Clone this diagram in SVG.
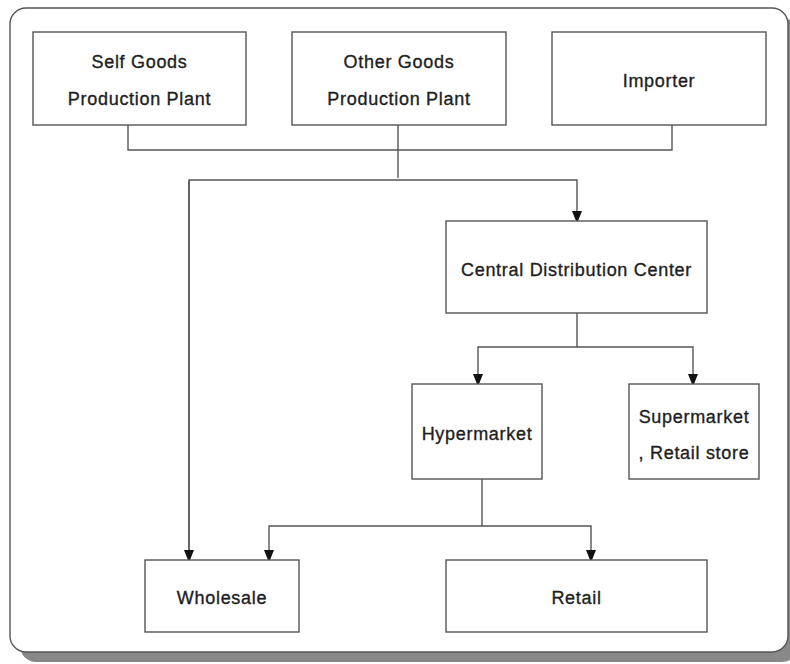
<svg xmlns="http://www.w3.org/2000/svg" width="790" height="664" viewBox="0 0 790 664">
  <style>
    .box { fill: #ffffff; stroke: #555555; stroke-width: 1.4; }
    .lbl { font-family: "Liberation Sans", Arial, sans-serif; font-size: 18px; letter-spacing: 0.7px; fill: #1e1e1e; stroke: #1e1e1e; stroke-width: 0.35; text-anchor: middle; }
    .wire { fill: none; stroke: #555555; stroke-width: 1.4; }
  </style>
  <defs>
    <marker id="arrowDown" viewBox="0 0 10 10" refX="5" refY="10" markerWidth="10" markerHeight="10" markerUnits="userSpaceOnUse" orient="0">
      <path d="M0,0 L10,0 L6,10 L4,10 Z" fill="#111111"/>
    </marker>
  </defs>

  <!-- frame with drop shadow -->
  <rect x="20" y="18" width="778" height="644" rx="16" fill="#888888"/>
  <rect x="10" y="8" width="778" height="644" rx="16" fill="#ffffff" stroke="#555555" stroke-width="1.4"/>

  <g id="connectors">
    <path class="wire" d="M128,125 V150 H672 V125"/>
    <path class="wire" d="M398,125 V178"/>
    <path class="wire" d="M189,560 V180 H577 V221" marker-end="url(#arrowDown)"/>
    <path class="wire" d="M189,181 V560" marker-end="url(#arrowDown)"/>
    <path class="wire" d="M577,313 V347 H478 V384" marker-end="url(#arrowDown)"/>
    <path class="wire" d="M577,347 H693 V384" marker-end="url(#arrowDown)"/>
    <path class="wire" d="M482,479 V526 H269 V560" marker-end="url(#arrowDown)"/>
    <path class="wire" d="M482,526 H591 V560" marker-end="url(#arrowDown)"/>
  </g>

  <g id="self-goods">
    <rect class="box" x="33" y="32" width="213" height="93"/>
    <text class="lbl" x="139.5" y="68">Self Goods</text>
    <text class="lbl" x="139.5" y="105">Production Plant</text>
  </g>
  <g id="other-goods">
    <rect class="box" x="292" y="32" width="214" height="93"/>
    <text class="lbl" x="399" y="68">Other Goods</text>
    <text class="lbl" x="399" y="105">Production Plant</text>
  </g>
  <g id="importer">
    <rect class="box" x="552" y="32" width="214" height="93"/>
    <text class="lbl" x="659" y="87">Importer</text>
  </g>
  <g id="central-distribution">
    <rect class="box" x="446" y="221" width="261" height="92"/>
    <text class="lbl" x="576.5" y="276">Central Distribution Center</text>
  </g>
  <g id="hypermarket">
    <rect class="box" x="412" y="384" width="130" height="95"/>
    <text class="lbl" x="477" y="440">Hypermarket</text>
  </g>
  <g id="supermarket">
    <rect class="box" x="629" y="384" width="130" height="95"/>
    <text class="lbl" x="694" y="423">Supermarket</text>
    <text class="lbl" x="694" y="459">, Retail store</text>
  </g>
  <g id="wholesale">
    <rect class="box" x="145" y="560" width="154" height="72"/>
    <text class="lbl" x="222" y="604">Wholesale</text>
  </g>
  <g id="retail">
    <rect class="box" x="446" y="560" width="261" height="72"/>
    <text class="lbl" x="576.5" y="604">Retail</text>
  </g>
</svg>
